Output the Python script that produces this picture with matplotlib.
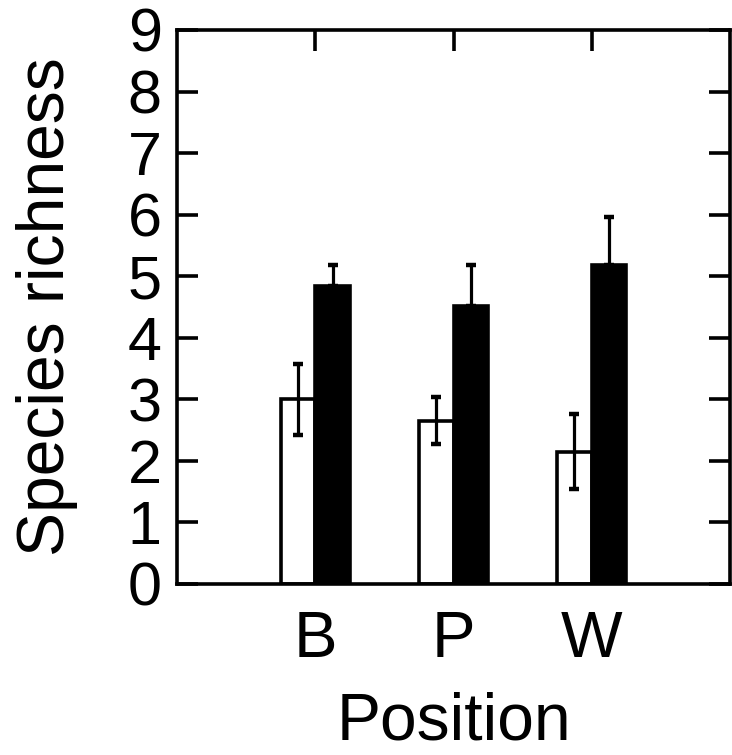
import matplotlib
matplotlib.use("Agg")
import matplotlib.pyplot as plt
import numpy as np

plt.rcParams['font.family'] = ['Liberation Sans', 'DejaVu Sans']

categories = ["B", "P", "W"]
white_vals = [3.0, 2.65, 2.15]
white_err = [0.58, 0.38, 0.61]
black_vals = [4.84, 4.51, 5.18]
black_err = [0.34, 0.68, 0.78]

fig = plt.figure(figsize=(7.32, 7.55), dpi=100)
ax = fig.add_axes([177/732, 1-584/755, (730-177)/732, (584-30)/755])

x = np.arange(1, len(categories) + 1)
w = 0.25
lw = 2.6
ax.bar(x - w/2, white_vals, w, color="white", edgecolor="black", linewidth=lw, zorder=2)
ax.bar(x + w/2, black_vals, w, color="black", edgecolor="black", linewidth=lw, zorder=2)
ax.errorbar(x - w/2, white_vals, yerr=white_err, fmt="none", ecolor="black",
            elinewidth=2.3, capsize=3.4, capthick=3.2, zorder=3)
ax.errorbar(x + w/2, black_vals, yerr=[np.zeros(len(black_err)), black_err], fmt="none",
            ecolor="black", elinewidth=2.3, capsize=3.4, capthick=3.2, zorder=3)

ax.set_xlim(0, 4)
ax.set_ylim(0, 9)
ax.set_yticks(range(0, 10))
ax.set_xticks(x)
ax.set_xticklabels(categories)
for s in ax.spines.values():
    s.set_linewidth(lw)
ax.tick_params(axis="y", which="both", direction="in", left=True, right=True,
               length=15, width=lw, labelsize=44, pad=11)
ax.tick_params(axis="x", which="both", direction="in", bottom=False, top=True,
               length=15, width=lw, labelsize=47, pad=19)
ax.set_xlabel("Position", fontsize=47.5, labelpad=15)
ax.set_ylabel("Species richness", fontsize=47.5, labelpad=36)

fig.savefig("out.png", dpi=100)
